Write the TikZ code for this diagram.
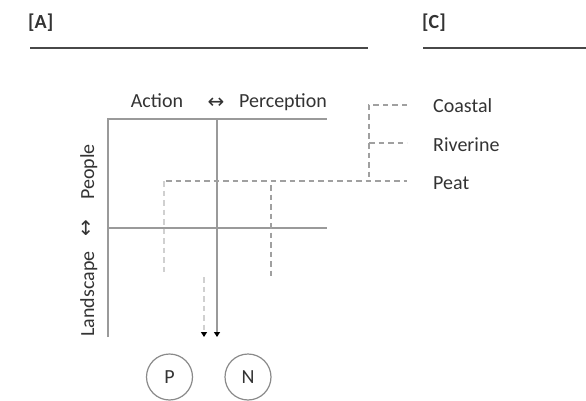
\documentclass[tikz,border=0pt]{standalone}
\usepackage{fontspec}
\setmainfont{Carlito}
\newfontfamily\symfont{DejaVu Sans}
\usetikzlibrary{arrows.meta}
\definecolor{txt}{HTML}{333333}
\definecolor{rule}{HTML}{484848}
\definecolor{boxline}{HTML}{9A9A9A}
\definecolor{dashmid}{HTML}{A0A0A0}
\definecolor{dashlight}{HTML}{D0D0D0}
\definecolor{circ}{HTML}{8A8A8A}
\tikzset{
  lbl/.style={font=\fontsize{20}{24}\selectfont, text=txt, inner sep=0pt},
  ttl/.style={font=\fontsize{20}{24}\selectfont\bfseries, text=txt, inner sep=0pt, anchor=base west},
  titlerule/.style={draw=rule, line width=1.5pt},
  gridline/.style={draw=boxline, line width=1.3pt},
  dmid/.style={draw=dashmid, line width=1.3pt, dash pattern=on 5.5pt off 4pt},
  dlight/.style={draw=dashlight, line width=1.3pt, dash pattern=on 5.5pt off 4pt},
  tip/.style={-{Triangle[width=6pt,length=5pt,color=black]}},
  circnode/.style={circle, draw=circ, line width=1.2pt, minimum size=46pt, inner sep=0pt, font=\fontsize{20}{24}\selectfont, text=txt},
  sym/.style={font=\symfont\fontsize{20}{24}\selectfont, text=txt, inner sep=0pt}
}
\begin{document}
\begin{tikzpicture}[x=1pt,y=-1pt]
\useasboundingbox (0,0) rectangle (586,401);
% titles
\node[ttl] (tA) at (28,29) {[A]};
\node[ttl] (tC) at (422,29) {[C]};
\coordinate (rA1) at (30,48); \coordinate (rA2) at (368,48);
\coordinate (rC1) at (423,48); \coordinate (rC2) at (586,48);
\draw[titlerule] (rA1) -- (rA2);
\draw[titlerule] (rC1) -- (rC2);
% axis labels
\node[lbl, anchor=base] (act) at (157,108) {Action};
\node[sym] (harr) at (216,103) {↔};
\node[lbl, anchor=base] (perc) at (283,108) {Perception};
\node[lbl, anchor=base, rotate=90] (peo) at (94,172) {People};
\node[sym, rotate=90] (varr) at (87,228) {↔};
\node[lbl, anchor=base, rotate=90] (land) at (94,294) {Landscape};
% grid
\coordinate (tl) at (108,119); \coordinate (tr) at (327,119);
\coordinate (bl) at (108,337);
\coordinate (ml) at (108,228); \coordinate (mr) at (327,228);
\coordinate (vt) at (217,119); \coordinate (vb) at (217,337);
\draw[gridline] (bl) -- (tl) -- (tr);
\draw[gridline] (ml) -- (mr);
\draw[gridline, tip] (vt) -- (vb);
% dashed
\coordinate (lc) at (164,181); \coordinate (lb) at (164,275);
\coordinate (pk) at (407,181);
\coordinate (ht) at (166,181);
\coordinate (rt) at (271,185); \coordinate (rb) at (271,277);
\coordinate (at) at (204,277); \coordinate (ab) at (204,337);
\draw[dlight] (lc) -- (lb);
\draw[dmid] (ht) -- (pk);
\draw[dmid] (rt) -- (rb);
\draw[dlight, tip] (at) -- (ab);
% legend tree
\coordinate (tt) at (369,105); \coordinate (tm) at (369,143); \coordinate (tb) at (369,181);
\coordinate (ce) at (407,105); \coordinate (re) at (407,143);
\draw[dmid] (ce) -- (tt) -- (tb);
\draw[dmid] (tm) -- (re);
\node[lbl, anchor=base west] (coastal) at (433,113) {Coastal};
\node[lbl, anchor=base west] (riverine) at (433,151) {Riverine};
\node[lbl, anchor=base west] (peat) at (433,189) {Peat};
% circles
\node[circnode] (P) at (169.5,377) {P};
\node[circnode] (N) at (248,377) {N};
\end{tikzpicture}
\end{document}
